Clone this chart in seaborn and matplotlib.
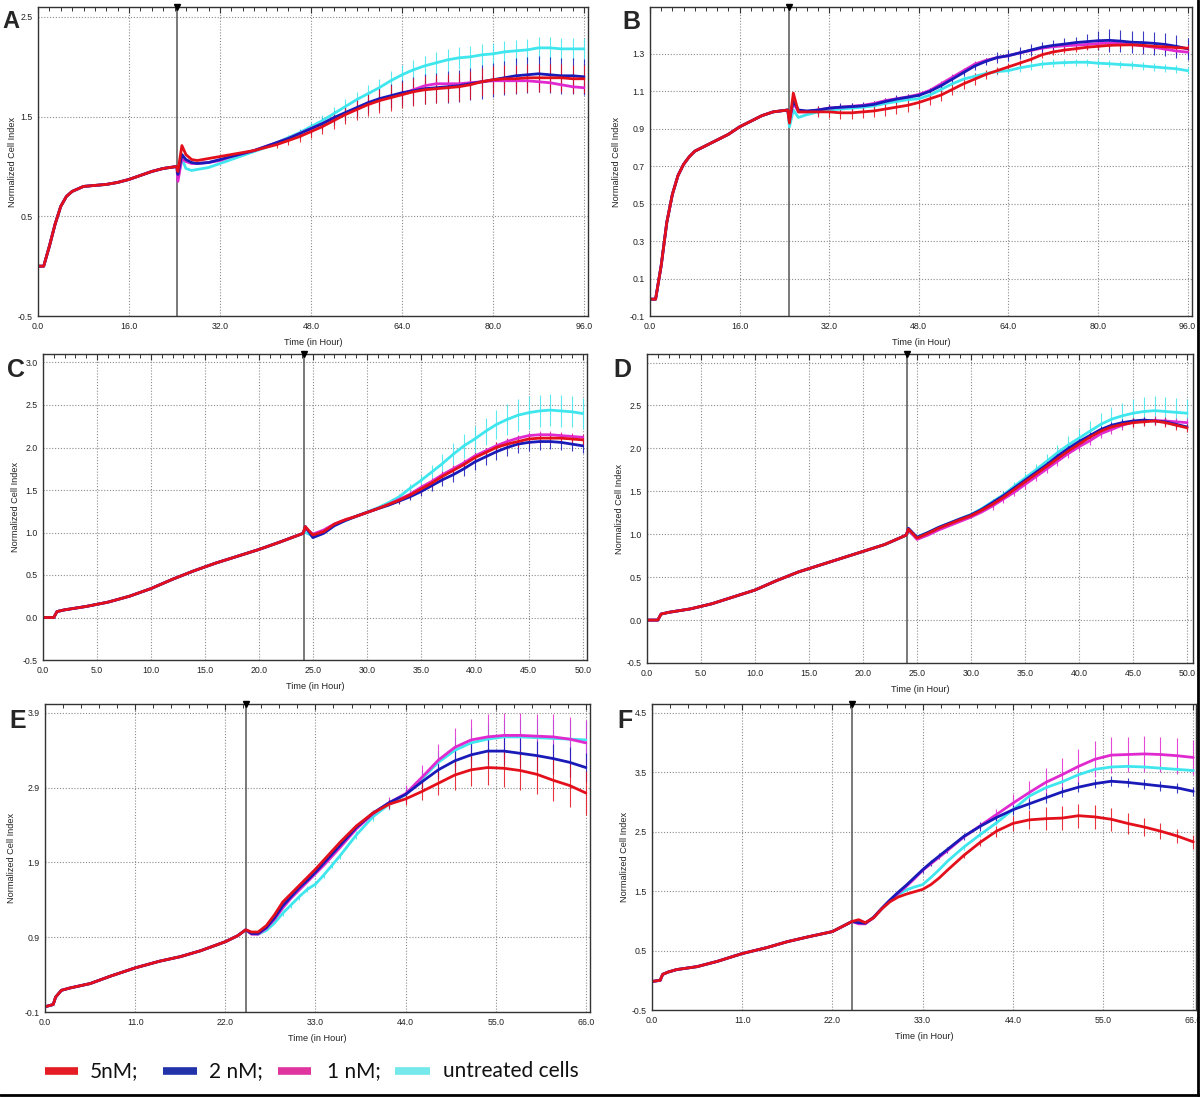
import numpy as np
import pandas as pd
import matplotlib
matplotlib.use("Agg")
import matplotlib.pyplot as plt
import seaborn as sns
from matplotlib.lines import Line2D
from matplotlib.ticker import FixedLocator, FuncFormatter, FormatStrFormatter

sns.set_style("white")
plt.rcParams["font.family"] = ["Liberation Sans", "DejaVu Sans"]

SERIES = ["5nM", "2nM", "1nM", "untreated"]
DRAW_ORDER = ["untreated", "1nM", "2nM", "5nM"]
LINE_COLORS = {"5nM": "#e3101c", "2nM": "#1a1ab8", "1nM": "#e02ad0", "untreated": "#3fe6ee"}
LEGEND_LABELS = ["5nM;", "2 nM;", "1 nM;", "untreated cells"]
LEGEND_COLORS = ["#e51c23", "#2233aa", "#e0359f", "#74e8ea"]

# ---------------- Panel A ----------------
A_t_early = [0, 1, 2, 3, 4, 5, 6, 8, 10, 12, 14, 16, 18, 20, 22, 24.4]
A_y_early = [0.0, 0.0, 0.2, 0.42, 0.6, 0.7, 0.75, 0.8, 0.81, 0.82, 0.84, 0.87, 0.91, 0.95, 0.98, 1.0]
A_t_late = [24.6, 25.3, 26, 27, 28, 30, 32, 34, 36, 38, 40, 42, 44, 46, 48, 50, 52, 54, 56, 58, 60,
            62, 64, 66, 68, 70, 72, 74, 76, 78, 80, 82, 84, 86, 88, 90, 92, 94, 96]
A_red = [0.95, 1.21, 1.12, 1.07, 1.06, 1.08, 1.10, 1.12, 1.14, 1.16, 1.19, 1.22, 1.26, 1.30, 1.35, 1.40,
         1.46, 1.52, 1.57, 1.62, 1.66, 1.69, 1.72, 1.75, 1.77, 1.78, 1.79, 1.80, 1.82, 1.85, 1.87, 1.88,
         1.88, 1.89, 1.89, 1.89, 1.89, 1.88, 1.88]
A_blue = [0.92, 1.12, 1.07, 1.04, 1.03, 1.04, 1.07, 1.10, 1.13, 1.16, 1.20, 1.24, 1.28, 1.33, 1.38, 1.43,
          1.49, 1.54, 1.59, 1.64, 1.68, 1.71, 1.74, 1.76, 1.78, 1.79, 1.80, 1.81, 1.83, 1.85, 1.87, 1.89,
          1.91, 1.92, 1.93, 1.92, 1.91, 1.91, 1.90]
A_mag = [0.85, 1.08, 1.05, 1.03, 1.03, 1.04, 1.06, 1.10, 1.13, 1.16, 1.20, 1.24, 1.28, 1.33, 1.38, 1.43,
         1.48, 1.53, 1.58, 1.63, 1.67, 1.70, 1.73, 1.77, 1.81, 1.83, 1.83, 1.83, 1.84, 1.85, 1.86, 1.86,
         1.86, 1.86, 1.85, 1.84, 1.82, 1.80, 1.79]
A_cyan = [0.90, 1.08, 0.98, 0.96, 0.97, 0.99, 1.03, 1.07, 1.11, 1.15, 1.19, 1.24, 1.29, 1.34, 1.40, 1.46,
          1.53, 1.60, 1.67, 1.73, 1.79, 1.86, 1.92, 1.97, 2.01, 2.04, 2.07, 2.09, 2.10, 2.12, 2.13, 2.15,
          2.16, 2.17, 2.19, 2.19, 2.18, 2.18, 2.18]
A_red_err = [0] * 11 + [0.03, 0.04, 0.05, 0.06, 0.07, 0.08, 0.09, 0.10, 0.11, 0.12, 0.13, 0.13, 0.14, 0.14,
                        0.14, 0.14, 0.14, 0.14, 0.14, 0.14, 0.14, 0.14, 0.14, 0.14, 0.14, 0.14, 0.14, 0.14]
A_blue_err = [0] * 11 + [0.02, 0.03, 0.04, 0.05, 0.06, 0.07, 0.08, 0.09, 0.10, 0.11, 0.12, 0.13, 0.14, 0.15,
                         0.15, 0.16, 0.16, 0.16, 0.17, 0.17, 0.17, 0.18, 0.18, 0.18, 0.18, 0.18, 0.18, 0.18]
A_mag_err = [0] * 11 + [0.02, 0.02, 0.03, 0.03, 0.04, 0.04, 0.05, 0.05, 0.05] + [0.06] * 19
A_cyan_err = [0] * 11 + [0.02, 0.03, 0.04, 0.05, 0.06, 0.07, 0.08, 0.08, 0.09, 0.09, 0.10, 0.10, 0.10, 0.10] + [0.11] * 14

# ---------------- Panel B ----------------
B_t_early = [0, 1, 2, 3, 4, 5, 6, 7, 8, 10, 12, 14, 16, 18, 20, 22, 24.6]
B_y_early = [-0.01, -0.01, 0.17, 0.40, 0.55, 0.65, 0.71, 0.75, 0.78, 0.81, 0.84, 0.87, 0.91, 0.94, 0.97, 0.99, 1.0]
B_t_late = [24.9, 25.6, 26.5, 28, 30, 32, 34, 36, 38, 40, 42, 44, 46, 48, 50, 52, 54, 56, 58, 60, 62,
            64, 66, 68, 70, 72, 74, 76, 78, 80, 82, 84, 86, 88, 90, 92, 94, 96]
B_red = [0.93, 1.09, 0.99, 0.99, 0.99, 0.99, 0.985, 0.985, 0.99, 0.995, 1.005, 1.015, 1.025, 1.04, 1.06,
         1.08, 1.11, 1.14, 1.165, 1.19, 1.21, 1.23, 1.25, 1.27, 1.295, 1.31, 1.32, 1.327, 1.335, 1.34,
         1.345, 1.347, 1.348, 1.345, 1.34, 1.337, 1.333, 1.33]
B_blue = [0.95, 1.05, 1.0, 0.995, 1.0, 1.01, 1.015, 1.018, 1.022, 1.03, 1.045, 1.058, 1.068, 1.078, 1.10,
          1.13, 1.165, 1.20, 1.235, 1.26, 1.28, 1.29, 1.305, 1.32, 1.335, 1.345, 1.352, 1.36, 1.365, 1.37,
          1.372, 1.368, 1.362, 1.36, 1.356, 1.35, 1.34, 1.327]
B_mag = [0.94, 1.04, 0.99, 0.99, 1.0, 1.01, 1.015, 1.02, 1.025, 1.035, 1.05, 1.06, 1.07, 1.083, 1.105,
         1.14, 1.175, 1.21, 1.245, 1.265, 1.28, 1.29, 1.305, 1.318, 1.33, 1.338, 1.343, 1.346, 1.35, 1.355,
         1.357, 1.355, 1.35, 1.343, 1.335, 1.325, 1.315, 1.309]
B_cyan = [0.91, 1.0, 0.96, 0.975, 0.99, 1.0, 1.005, 1.01, 1.015, 1.022, 1.035, 1.045, 1.055, 1.06, 1.08,
          1.11, 1.14, 1.165, 1.18, 1.195, 1.205, 1.21, 1.225, 1.235, 1.245, 1.25, 1.253, 1.255, 1.255, 1.25,
          1.247, 1.243, 1.24, 1.235, 1.23, 1.225, 1.22, 1.21]
B_red_err = [0] * 4 + [0.03] + [0.035] * 10 + [0.03] * 4 + [0.025, 0.02, 0.02] + [0.015] * 16
B_blue_err = [0] * 4 + [0.02] * 16 + [0.03] * 8 + [0.04, 0.05] + [0.06] * 8
B_mag_err = [0] * 4 + [0.015] * 34
B_cyan_err = [0] * 4 + [0.015] * 16 + [0.02] * 18

# ---------------- Panel C ----------------
C_t_early = [0, 1, 1.3, 2, 4, 6, 8, 10, 12, 14, 16, 18, 20, 22, 24.1]
C_y_early = [0, 0, 0.07, 0.09, 0.13, 0.18, 0.25, 0.34, 0.45, 0.55, 0.64, 0.72, 0.80, 0.89, 0.99]
C_t_late = [24.3, 25, 26, 27, 28, 29, 30, 31, 32, 33, 34, 35, 36, 37, 38, 39, 40, 41, 42, 43, 44, 45,
            46, 47, 48, 49, 50]
C_red = [1.07, 0.97, 1.01, 1.10, 1.15, 1.19, 1.235, 1.28, 1.33, 1.38, 1.44, 1.51, 1.58, 1.66, 1.73, 1.80,
         1.88, 1.94, 2.0, 2.04, 2.07, 2.10, 2.11, 2.11, 2.11, 2.10, 2.09]
C_blue = [1.07, 0.94, 0.99, 1.08, 1.14, 1.19, 1.235, 1.28, 1.32, 1.37, 1.42, 1.48, 1.55, 1.62, 1.68, 1.75,
          1.83, 1.89, 1.95, 2.0, 2.04, 2.06, 2.07, 2.07, 2.06, 2.04, 2.02]
C_mag = [1.05, 0.98, 1.03, 1.10, 1.15, 1.19, 1.235, 1.28, 1.33, 1.39, 1.45, 1.53, 1.60, 1.68, 1.75, 1.82,
         1.90, 1.96, 2.02, 2.07, 2.11, 2.14, 2.15, 2.15, 2.14, 2.13, 2.12]
C_cyan = [1.0, 0.96, 1.0, 1.09, 1.14, 1.19, 1.24, 1.29, 1.35, 1.42, 1.52, 1.61, 1.71, 1.81, 1.92, 2.02,
          2.10, 2.19, 2.27, 2.33, 2.38, 2.41, 2.43, 2.44, 2.43, 2.42, 2.40]
C_red_err = [0] * 9 + [0.03, 0.03, 0.04, 0.04, 0.05, 0.05, 0.05, 0.05] + [0.06] * 10
C_blue_err = [0] * 9 + [0.03, 0.04, 0.05, 0.06, 0.07, 0.08, 0.09, 0.1, 0.1, 0.1, 0.1, 0.1, 0.1, 0.1,
                        0.09, 0.09, 0.08, 0.08]
C_mag_err = [0] * 9 + [0.04] * 18
C_cyan_err = [0] * 9 + [0.03, 0.05, 0.07, 0.09, 0.11, 0.13, 0.14, 0.15, 0.16, 0.17, 0.18, 0.19, 0.19,
                        0.19, 0.19, 0.19, 0.18, 0.18]

# ---------------- Panel D ----------------
D_t_early = [0, 1, 1.3, 2, 4, 6, 8, 10, 12, 14, 16, 18, 20, 22, 24.0]
D_y_early = [0, 0, 0.07, 0.09, 0.13, 0.19, 0.27, 0.35, 0.46, 0.56, 0.64, 0.72, 0.80, 0.88, 0.99]
D_t_late = [24.2, 25, 26, 27, 28, 29, 30, 31, 32, 33, 34, 35, 36, 37, 38, 39, 40, 41, 42, 43, 44, 45,
            46, 47, 48, 49, 50]
D_red = [1.06, 0.955, 1.01, 1.07, 1.12, 1.17, 1.215, 1.28, 1.35, 1.43, 1.52, 1.61, 1.70, 1.79, 1.88, 1.97,
         2.05, 2.13, 2.20, 2.25, 2.28, 2.30, 2.31, 2.32, 2.30, 2.27, 2.24]
D_blue = [1.07, 0.965, 1.02, 1.08, 1.13, 1.18, 1.226, 1.29, 1.37, 1.45, 1.54, 1.63, 1.72, 1.81, 1.91, 2.0,
          2.08, 2.15, 2.22, 2.27, 2.30, 2.32, 2.33, 2.32, 2.31, 2.28, 2.25]
D_mag = [1.05, 0.94, 0.99, 1.05, 1.10, 1.15, 1.20, 1.26, 1.33, 1.41, 1.49, 1.58, 1.67, 1.76, 1.85, 1.94,
         2.02, 2.09, 2.17, 2.22, 2.27, 2.305, 2.32, 2.325, 2.32, 2.31, 2.30]
D_cyan = [1.03, 0.97, 1.02, 1.08, 1.13, 1.18, 1.23, 1.30, 1.38, 1.46, 1.56, 1.655, 1.75, 1.85, 1.95, 2.04,
          2.12, 2.20, 2.28, 2.34, 2.38, 2.41, 2.43, 2.44, 2.43, 2.42, 2.41]
D_red_err = [0] * 8 + [0.03] * 13 + [0.05] * 6
D_blue_err = [0] * 8 + [0.04] * 19
D_mag_err = [0] * 8 + [0.05] * 19
D_cyan_err = [0] * 8 + [0.03, 0.04, 0.05, 0.06, 0.07, 0.08, 0.09, 0.10, 0.11, 0.12, 0.13, 0.14, 0.15,
                        0.16, 0.17, 0.17, 0.17, 0.17, 0.17]

# ---------------- Panel E ----------------
E_t_early = [0, 1, 1.3, 2, 3, 5.5, 8, 11, 14, 16.5, 19, 22, 23.5, 24.5]
E_y_early = [-0.03, 0.0, 0.1, 0.19, 0.22, 0.28, 0.38, 0.49, 0.58, 0.64, 0.72, 0.84, 0.92, 1.0]
E_t_late = [25.2, 26, 27, 28, 29, 30, 31, 32, 33, 34, 35, 36, 38, 40, 42, 44, 46, 48, 50, 52, 54, 56,
            58, 60, 62, 64, 66]
E_red = [0.97, 0.97, 1.055, 1.2, 1.37, 1.48, 1.59, 1.70, 1.81, 1.93, 2.05, 2.17, 2.39, 2.56, 2.68, 2.75,
         2.85, 2.96, 3.07, 3.14, 3.17, 3.16, 3.13, 3.08, 3.0, 2.93, 2.83]
E_blue = [0.95, 0.95, 1.03, 1.16, 1.32, 1.44, 1.56, 1.66, 1.77, 1.89, 2.01, 2.13, 2.37, 2.56, 2.70, 2.81,
          2.98, 3.14, 3.26, 3.34, 3.39, 3.39, 3.36, 3.33, 3.29, 3.24, 3.17]
E_mag = [0.94, 0.94, 1.02, 1.14, 1.29, 1.42, 1.53, 1.64, 1.75, 1.86, 1.98, 2.10, 2.35, 2.55, 2.70, 2.82,
         3.04, 3.27, 3.44, 3.54, 3.58, 3.60, 3.60, 3.59, 3.58, 3.55, 3.50]
E_cyan = [0.95, 0.94, 0.99, 1.09, 1.22, 1.33, 1.44, 1.54, 1.61, 1.73, 1.86, 1.99, 2.27, 2.51, 2.68, 2.81,
          3.02, 3.24, 3.40, 3.50, 3.55, 3.58, 3.58, 3.57, 3.56, 3.55, 3.54]
E_red_err = [0] * 14 + [0.05, 0.08, 0.12, 0.16, 0.2, 0.22, 0.24, 0.25, 0.26, 0.27, 0.28, 0.29, 0.3]
E_blue_err = [0] * 14 + [0.04, 0.06, 0.09, 0.12, 0.15, 0.17, 0.18, 0.19, 0.2, 0.2, 0.2, 0.2, 0.2]
E_mag_err = [0] * 13 + [0.05, 0.08, 0.12, 0.17, 0.22, 0.26, 0.28, 0.3, 0.3, 0.3, 0.3, 0.3, 0.3, 0.3]
E_cyan_err = [0] * 4 + [0.04] * 8 + [0.05, 0.06, 0.08, 0.1, 0.12, 0.15, 0.18, 0.2, 0.22, 0.23, 0.24,
                                      0.25, 0.25, 0.25, 0.25]

# ---------------- Panel F ----------------
F_t_early = [0, 1, 1.3, 2, 3, 5.5, 8, 11, 14, 16.5, 19, 22, 24.4]
F_y_early = [-0.02, 0.0, 0.1, 0.14, 0.18, 0.23, 0.32, 0.45, 0.55, 0.65, 0.73, 0.82, 0.99]
F_t_late = [25.2, 26, 27, 28, 29, 30, 31, 32, 33, 34, 35, 36, 38, 40, 42, 44, 46, 48, 50, 52, 54, 56,
            58, 60, 62, 64, 66]
F_red = [1.02, 0.97, 1.05, 1.2, 1.32, 1.40, 1.45, 1.49, 1.53, 1.61, 1.72, 1.85, 2.10, 2.32, 2.51, 2.64,
         2.70, 2.72, 2.73, 2.77, 2.75, 2.71, 2.64, 2.58, 2.51, 2.43, 2.33]
F_blue = [0.97, 0.96, 1.06, 1.21, 1.35, 1.48, 1.60, 1.73, 1.86, 1.98, 2.09, 2.20, 2.42, 2.59, 2.74, 2.87,
          2.97, 3.07, 3.17, 3.25, 3.31, 3.35, 3.33, 3.30, 3.27, 3.24, 3.18]
F_mag = [0.95, 0.95, 1.05, 1.2, 1.34, 1.46, 1.58, 1.71, 1.85, 1.96, 2.07, 2.18, 2.41, 2.60, 2.79, 2.98,
         3.16, 3.33, 3.46, 3.60, 3.72, 3.79, 3.80, 3.81, 3.80, 3.78, 3.75]
F_cyan = [0.97, 0.96, 1.05, 1.2, 1.34, 1.44, 1.52, 1.57, 1.61, 1.73, 1.86, 2.0, 2.24, 2.45, 2.65, 2.87,
          3.10, 3.24, 3.34, 3.46, 3.55, 3.59, 3.60, 3.59, 3.57, 3.55, 3.53]
F_red_err = [0] * 12 + [0.04, 0.06, 0.09, 0.12, 0.16, 0.19, 0.2, 0.2, 0.2, 0.19, 0.17, 0.15, 0.13, 0.12, 0.12]
F_blue_err = [0] * 8 + [0.05] * 4 + [0.06, 0.07] + [0.08] * 13
F_mag_err = [0] * 13 + [0.05, 0.1, 0.15, 0.2, 0.25, 0.28] + [0.3] * 8
F_cyan_err = [0] * 12 + [0.04] * 15

# treatment (drug addition) time per panel
DRUG_T = {"A": 24.5, "B": 24.8, "C": 24.2, "D": 24.1, "E": 24.5, "F": 24.4}

DATA = {
    "A": (A_t_early, A_y_early, A_t_late, [A_red, A_blue, A_mag, A_cyan], [A_red_err, A_blue_err, A_mag_err, A_cyan_err]),
    "B": (B_t_early, B_y_early, B_t_late, [B_red, B_blue, B_mag, B_cyan], [B_red_err, B_blue_err, B_mag_err, B_cyan_err]),
    "C": (C_t_early, C_y_early, C_t_late, [C_red, C_blue, C_mag, C_cyan], [C_red_err, C_blue_err, C_mag_err, C_cyan_err]),
    "D": (D_t_early, D_y_early, D_t_late, [D_red, D_blue, D_mag, D_cyan], [D_red_err, D_blue_err, D_mag_err, D_cyan_err]),
    "E": (E_t_early, E_y_early, E_t_late, [E_red, E_blue, E_mag, E_cyan], [E_red_err, E_blue_err, E_mag_err, E_cyan_err]),
    "F": (F_t_early, F_y_early, F_t_late, [F_red, F_blue, F_mag, F_cyan], [F_red_err, F_blue_err, F_mag_err, F_cyan_err]),
}

W, H = 1200, 1097
fig = plt.figure(figsize=(W / 100, H / 100), dpi=100)

# layout: (left, right, top, bottom) in pixels, xlim, ylim, ticks
LAYOUT = {
    "A": dict(px=(38, 588, 7, 316), xlim=(0, 96.7), ylim=(-0.5, 2.6),
              xmaj=np.arange(0, 97, 16), xmin=np.arange(0, 97, 2),
              ymaj=np.arange(-0.5, 2.6, 1.0), ymin=np.arange(-0.5, 2.6, 0.5), ylab=-0.047,
              letter=(2, 10), hide=None, fs=17),
    "B": dict(px=(650, 1192, 7, 316), xlim=(0, 96.8), ylim=(-0.1, 1.55),
              xmaj=np.arange(0, 97, 16), xmin=np.arange(0, 97, 2),
              ymaj=np.arange(-0.1, 1.35, 0.2), ymin=np.arange(-0.1, 1.55, 0.1), ylab=-0.061,
              letter=(622, 10), hide=None, fs=18),
    "C": dict(px=(43, 587, 354, 660), xlim=(0, 50.4), ylim=(-0.5, 3.1),
              xmaj=np.arange(0, 51, 5), xmin=np.arange(0, 51, 1),
              ymaj=np.arange(-0.5, 3.05, 0.5), ymin=np.arange(-0.5, 3.1, 0.25), ylab=-0.05,
              letter=(7, 358), hide=None, fs=18),
    "D": dict(px=(647, 1193, 354, 663), xlim=(0, 50.55), ylim=(-0.5, 3.1),
              xmaj=np.arange(0, 51, 5), xmin=np.arange(0, 51, 1),
              ymaj=np.arange(-0.5, 3.05, 0.5), ymin=np.arange(-0.5, 3.1, 0.25), ylab=-0.05,
              letter=(613, 358), hide=3.0, fs=18),
    "E": dict(px=(45, 590, 704, 1012), xlim=(0, 66.5), ylim=(-0.1, 4.02),
              xmaj=np.arange(0, 67, 11), xmin=np.arange(0, 66.1, 2.2),
              ymaj=np.arange(-0.1, 4.0, 1.0), ymin=np.arange(-0.1, 4.0, 0.5), ylab=-0.062,
              letter=(9, 709), hide=None, fs=18),
    "F": dict(px=(652, 1196, 704, 1010), xlim=(0, 66.33), ylim=(-0.5, 4.65),
              xmaj=np.arange(0, 67, 11), xmin=np.arange(0, 66.1, 2.2),
              ymaj=np.arange(-0.5, 4.6, 1.0), ymin=np.arange(-0.5, 4.6, 0.5), ylab=-0.05,
              letter=(617, 709), hide=None, fs=18),
}


def make_fmt(hide):
    def f(v, pos):
        if hide is not None and abs(v - hide) < 1e-6:
            return ""
        return "%.1f" % v
    return FuncFormatter(f)


for key, (t_e, y_e, t_l, late, errs) in DATA.items():
    lay = LAYOUT[key]
    l, r, t, b = lay["px"]
    ax = fig.add_axes([l / W, 1 - b / H, (r - l) / W, (b - t) / H])

    rows = []
    for name, vals in zip(SERIES, late):
        assert len(vals) == len(t_l), (key, name, len(vals), len(t_l))
        for tt, vv in zip(list(t_e) + list(t_l), list(y_e) + list(vals)):
            rows.append((name, tt, vv))
    df = pd.DataFrame(rows, columns=["series", "t", "v"])

    ax.axvline(DRUG_T[key], color="#555555", lw=1.1, zorder=1.5)
    ax.plot([DRUG_T[key]], [1.0], marker="v", color="black", ms=4.5,
            transform=ax.get_xaxis_transform(), clip_on=False, zorder=5)

    for name in DRAW_ORDER:
        i = SERIES.index(name)
        assert len(errs[i]) == len(t_l), (key, name, "err", len(errs[i]))
        ax.errorbar(t_l, late[i], yerr=errs[i], fmt="none", ecolor=LINE_COLORS[name],
                    elinewidth=0.8, capsize=0, alpha=0.85, zorder=1.8)

    sns.lineplot(data=df, x="t", y="v", hue="series", hue_order=DRAW_ORDER, palette=LINE_COLORS,
                 estimator=None, sort=False, linewidth=2.0, legend=False, ax=ax, zorder=2)

    ax.set_xlim(*lay["xlim"])
    ax.set_ylim(*lay["ylim"])
    ax.xaxis.set_major_locator(FixedLocator(lay["xmaj"]))
    ax.xaxis.set_minor_locator(FixedLocator(lay["xmin"]))
    ax.yaxis.set_major_locator(FixedLocator(lay["ymaj"]))
    ax.yaxis.set_minor_locator(FixedLocator(lay["ymin"]))
    ax.xaxis.set_major_formatter(FormatStrFormatter("%.1f"))
    ax.yaxis.set_major_formatter(make_fmt(lay["hide"]))
    ax.tick_params(which="both", direction="in", top=True, right=False, labelsize=6.3,
                   labelcolor="#222222", color="#333333", pad=4)
    ax.tick_params(which="major", length=4, width=0.8)
    ax.tick_params(which="minor", length=3, width=0.7)
    ax.grid(True, which="major", linestyle=(0, (1, 1.6)), color="#8c8c8c", linewidth=0.8)
    for sp in ax.spines.values():
        sp.set_color("#333333")
        sp.set_linewidth(1.0)

    ax.set_xlabel("Time (in Hour)", fontsize=6.6, color="#222222")
    ax.set_ylabel("Normalized Cell Index", fontsize=6.6, color="#222222")
    ax.xaxis.set_label_coords(0.5, -0.085)
    ax.xaxis.label.set_va("center")
    ax.yaxis.set_label_coords(lay["ylab"], 0.5)
    ax.yaxis.label.set_va("center")

    lx, ly = lay["letter"]
    fig.text(lx / W, 1 - ly / H, key, fontsize=lay["fs"], fontweight="bold", ha="left", va="top",
             family=["Liberation Sans", "DejaVu Sans"], zorder=10)

# legend drawn along the bottom
leg_y = 1 - 1071 / H
line_x = [(45, 78), (163, 197), (278, 311), (395, 430)]
text_x = [90, 209, 327, 443]
for (x0, x1), tx, lab, col in zip(line_x, text_x, LEGEND_LABELS, LEGEND_COLORS):
    fig.add_artist(Line2D([x0 / W, x1 / W], [leg_y, leg_y], color=col, lw=5.5, solid_capstyle="butt"))
    fig.text(tx / W, leg_y, lab, fontsize=15, ha="left", va="center", color="#111111",
             family=["Lato", "DejaVu Sans"])

# outer border lines (bottom and right)
fig.add_artist(Line2D([0, 1], [1 - 1095 / H] * 2, color="black", lw=2))
fig.add_artist(Line2D([1198 / W] * 2, [1 - 1095 / H, 1], color="black", lw=2))

fig.savefig("out.png", dpi=100)
